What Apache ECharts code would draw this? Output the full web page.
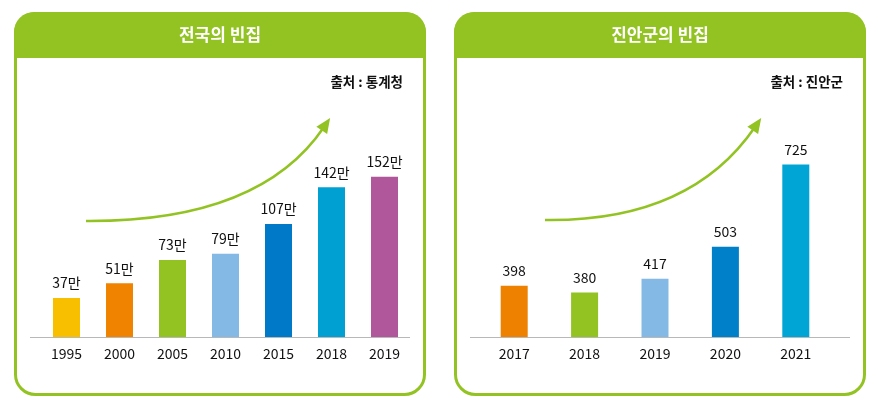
<!DOCTYPE html>
<html>
<head>
<meta charset="utf-8">
<script src="https://cdn.jsdelivr.net/npm/echarts@6/dist/echarts.min.js"></script>
<style>
html,body{margin:0;padding:0;background:#fff;}
#c{width:880px;height:410px;}
</style>
</head>
<body>
<div id="c"></div>
<script>
// ---- data ----
const natTitle = '전국의 빈집';
const natSource = '출처 : 통계청';
const natCats = ['1995', '2000', '2005', '2010', '2015', '2018', '2019'];
const natVals = [37, 51, 73, 79, 107, 142, 152];
const natColors = ['#F8BE00', '#F08300', '#92C323', '#85B9E5', '#0079C8', '#00A0D2', '#B0569A'];

const jinTitle = '진안군의 빈집';
const jinSource = '출처 : 진안군';
const jinCats = ['2017', '2018', '2019', '2020', '2021'];
const jinVals = [398, 380, 417, 503, 725];
const jinColors = ['#EE8200', '#92C323', '#85B9E5', '#0080C8', '#00A5D5'];

// ---- styles ----
const GREEN = '#92C323';
const FONT = '"Noto Sans CJK KR", "Noto Sans", sans-serif';

function frame(x) {
  return [
    { type: 'rect', z: -10, shape: { x: x + 1.5, y: 13.5, width: 409, height: 381, r: 20 },
      style: { fill: '#fff', stroke: GREEN, lineWidth: 3 } },
    { type: 'rect', z: -9, shape: { x: x, y: 12, width: 412, height: 46, r: [20, 20, 0, 0] },
      style: { fill: GREEN } }
  ];
}
function arrow(x0, y0, cx, cy, x1, y1) {
  const dx = x1 - cx, dy = y1 - cy, L = Math.hypot(dx, dy);
  const ux = dx / L, uy = dy / L, nx = -uy, ny = ux;
  const tipX = x1 + 11 * ux, tipY = y1 + 11 * uy;
  const bx = tipX - 15 * ux, by = tipY - 15 * uy;
  return [
    { type: 'bezierCurve', z: -5, shape: { x1: x0, y1: y0, cpx1: cx, cpy1: cy, x2: x1, y2: y1 },
      style: { stroke: GREEN, lineWidth: 2.5, fill: null } },
    { type: 'polygon', z: -5, shape: { points: [[tipX, tipY], [bx + 6.5 * nx, by + 6.5 * ny], [bx - 6.5 * nx, by - 6.5 * ny]] },
      style: { fill: GREEN } }
  ];
}
function text(x, y, t, opt) {
  return Object.assign({ type: 'text', z: -4, x: x, y: y,
    style: Object.assign({ text: t, font: '13px ' + FONT, fill: '#222', textVerticalAlign: 'middle' }, opt) });
}

const graphics = [].concat(
  frame(14), frame(454),
  [
    text(220, 35, natTitle, { textAlign: 'center', fill: '#fff', font: 'bold 17px ' + FONT }),
    text(660, 35, jinTitle, { textAlign: 'center', fill: '#fff', font: 'bold 17px ' + FONT }),
    text(403, 82, natSource, { textAlign: 'right', font: 'bold 13.5px ' + FONT, fill: '#111' }),
    text(843, 82, jinSource, { textAlign: 'right', font: 'bold 13.5px ' + FONT, fill: '#111' }),
    { type: 'line', z: -4, shape: { x1: 30, y1: 337.5, x2: 410, y2: 337.5 }, style: { stroke: '#b8b8b8', lineWidth: 1.2 } },
    { type: 'line', z: -4, shape: { x1: 470, y1: 337.5, x2: 850, y2: 337.5 }, style: { stroke: '#b8b8b8', lineWidth: 1.2 } }
  ],
  arrow(86, 221, 260, 222, 324, 127),
  arrow(545, 220, 690, 222, 755, 127)
);

const axisLabel = { color: '#111', fontSize: 14, fontFamily: FONT, margin: 10 };
const valLabel = { show: true, position: 'top', distance: 8, color: '#111', fontSize: 14, fontFamily: FONT };

const chart = echarts.init(document.getElementById('c'), null, { renderer: 'canvas' });
chart.setOption({
  animation: false,
  graphic: graphics,
  grid: [
    { left: 40, width: 371, bottom: 73, top: 126 },
    { left: 479, width: 352, bottom: 73, top: 144 }
  ],
  xAxis: [
    { type: 'category', gridIndex: 0, data: natCats, axisLine: { show: false }, axisTick: { show: false }, axisLabel: axisLabel },
    { type: 'category', gridIndex: 1, data: jinCats, axisLine: { show: false }, axisTick: { show: false }, axisLabel: axisLabel }
  ],
  yAxis: [
    { type: 'value', gridIndex: 0, min: 0, max: 200, show: false, splitLine: { show: false } },
    { type: 'value', gridIndex: 1, min: 260, max: 780, show: false, splitLine: { show: false } }
  ],
  series: [
    { type: 'bar', xAxisIndex: 0, yAxisIndex: 0, barWidth: 27,
      data: natVals.map((v, i) => ({ value: v, itemStyle: { color: natColors[i] } })),
      label: Object.assign({}, valLabel, { formatter: '{c}만' }) },
    { type: 'bar', xAxisIndex: 1, yAxisIndex: 1, barWidth: 27,
      data: jinVals.map((v, i) => ({ value: v, itemStyle: { color: jinColors[i] } })),
      label: Object.assign({}, valLabel, { formatter: '{c}' }) }
  ]
});
</script>
</body>
</html>
